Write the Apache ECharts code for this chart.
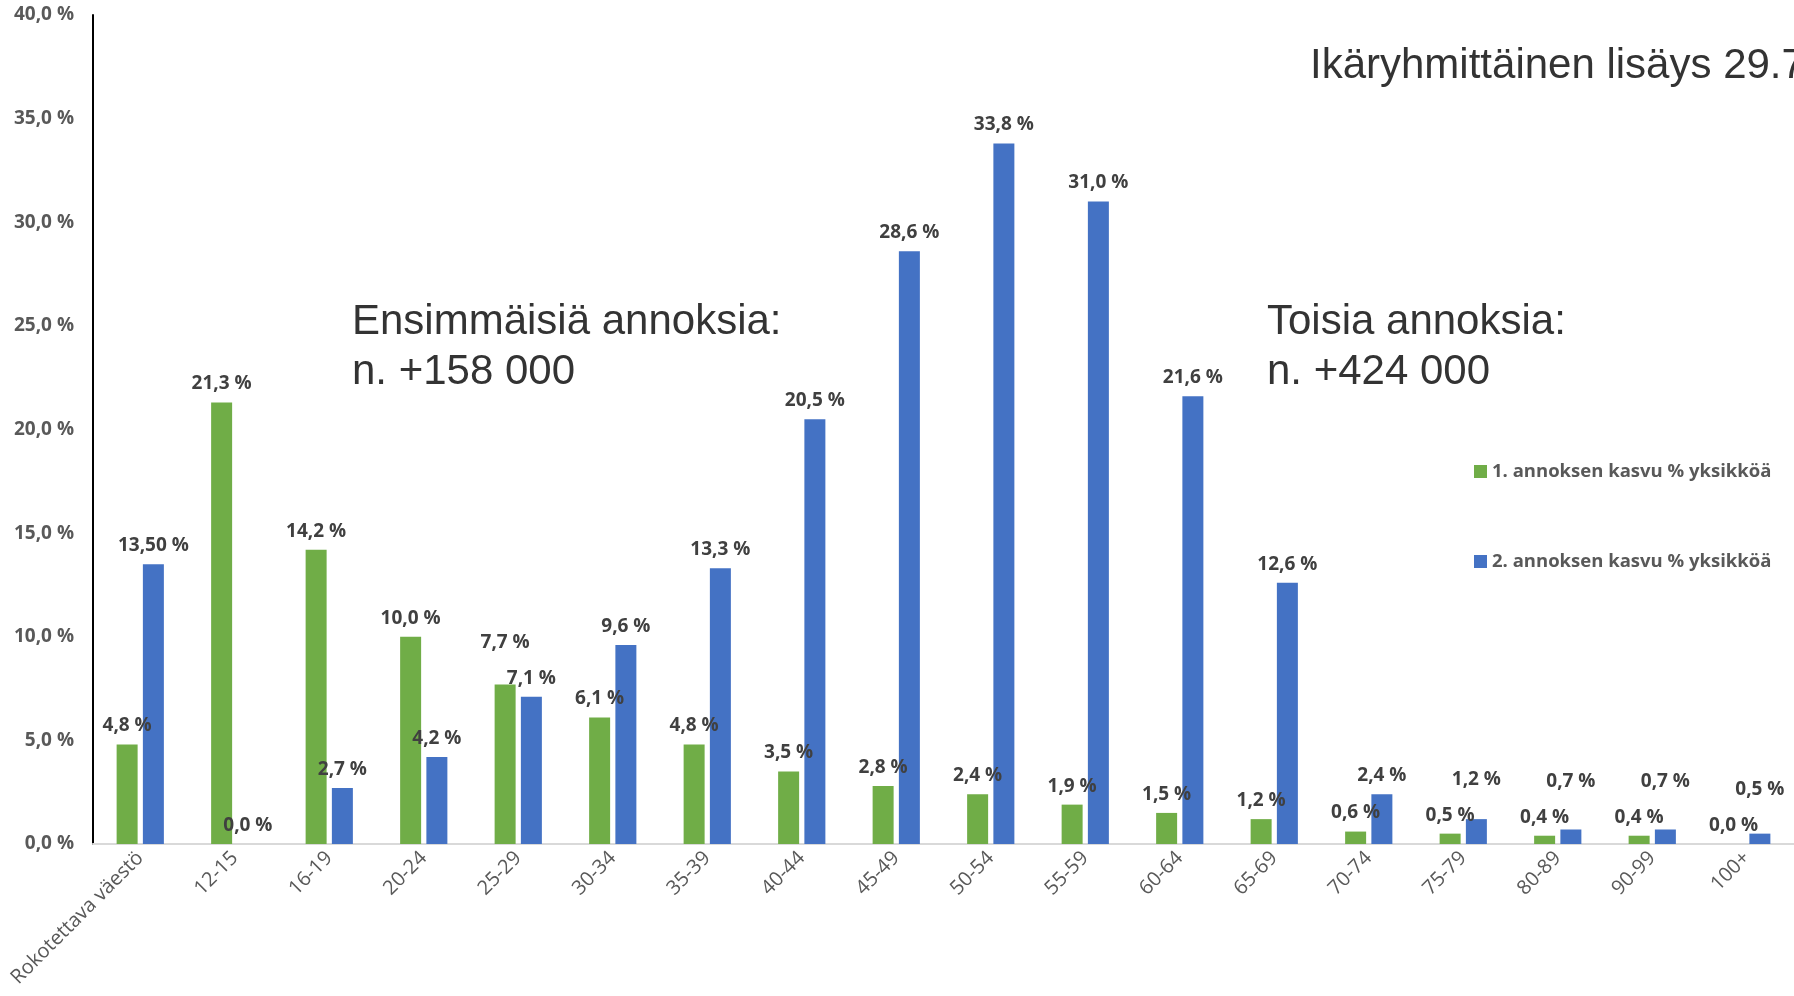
<!DOCTYPE html>
<html>
<head>
<meta charset="utf-8">
<script src="https://cdn.jsdelivr.net/npm/echarts@6/dist/echarts.min.js"></script>
<style>
  html, body { margin: 0; padding: 0; background: #fff; }
  #main { width: 1794px; height: 996px; }
</style>
</head>
<body>
<div id="main"></div>
<script>
    const categories = ['Rokotettava väestö', '12-15', '16-19', '20-24', '25-29', '30-34', '35-39', '40-44', '45-49',
        '50-54', '55-59', '60-64', '65-69', '70-74', '75-79', '80-89', '90-99', '100+'];
    const dose1Growth = [4.8, 21.3, 14.2, 10.0, 7.7, 6.1, 4.8, 3.5, 2.8, 2.4, 1.9, 1.5, 1.2, 0.6, 0.5, 0.4, 0.4, 0.0];
    const dose2Growth = [13.5, 0.0, 2.7, 4.2, 7.1, 9.6, 13.3, 20.5, 28.6, 33.8, 31.0, 21.6, 12.6, 2.4, 1.2, 0.7, 0.7, 0.5];
    const seriesNames = ['1. annoksen kasvu % yksikköä', '2. annoksen kasvu % yksikköä'];

    let dom = document.getElementById('main');
    let chart = echarts.init(dom);

    function pct(v, d) {
        return v.toFixed(d).replace('.', ',') + ' %';
    }

    // lift the label of the taller bar when the two labels of a group would collide
    function liftLabel(params) {
        let i = params.dataIndex;
        let own = params.seriesIndex === 0 ? dose1Growth[i] : dose2Growth[i];
        let other = params.seriesIndex === 0 ? dose2Growth[i] : dose1Growth[i];
        if (own <= other || own === 0) {
            return {};
        }
        let pxPerUnit = params.rect.height / own;
        let diff = (own - other) * pxPerUnit;
        if (diff < 36) {
            return { dy: -(36 - diff) };
        }
        return {};
    }

    let labelOpt = {
        show: true,
        position: 'top',
        distance: 9,
        fontFamily: 'Open Sans',
        fontWeight: 'bold',
        fontSize: 19,
        color: '#404040',
        formatter: function (p) {
            // first blue value shown with two decimals like in the original
            let d = (p.seriesIndex === 1 && p.dataIndex === 0) ? 2 : 1;
            return pct(p.value, d);
        }
    };

    let option = {
        backgroundColor: '#fff',
        animation: false,
        grid: {
            left: 93,
            right: 0,
            top: 15,
            bottom: 152
        },
        legend: {
            orient: 'vertical',
            left: 1474,
            top: 462,
            padding: 0,
            itemWidth: 13,
            itemHeight: 13,
            itemGap: 71,
            icon: 'rect',
            textStyle: {
                fontFamily: 'Open Sans',
                fontWeight: 'bold',
                fontSize: 18.5,
                color: '#595959'
            },
            data: seriesNames
        },
        xAxis: {
            type: 'category',
            data: categories,
            axisLine: { lineStyle: { color: '#d9d9d9', width: 2 } },
            axisTick: { show: false },
            axisLabel: {
                rotate: 45,
                margin: 11,
                interval: 0,
                fontFamily: 'Open Sans',
                fontSize: 20,
                color: '#595959'
            }
        },
        yAxis: {
            type: 'value',
            min: 0,
            max: 40,
            interval: 5,
            axisLine: { show: true, lineStyle: { color: '#000', width: 2 } },
            axisTick: { show: false },
            splitLine: { show: false },
            axisLabel: {
                margin: 19,
                fontFamily: 'Open Sans',
                fontWeight: 'bold',
                fontSize: 19,
                color: '#595959',
                formatter: function (v) { return pct(v, 1); }
            }
        },
        graphic: [
            {
                type: 'text',
                left: 1310,
                top: 45,
                style: {
                    text: 'Ikäryhmittäinen lisäys 29.7.',
                    font: '42px "Liberation Sans"',
                    fill: '#333'
                }
            },
            {
                type: 'text',
                left: 352,
                top: 297,
                style: {
                    text: 'Ensimmäisiä annoksia:\nn. +158 000',
                    font: '42px "Liberation Sans"',
                    lineHeight: 50,
                    fill: '#333'
                }
            },
            {
                type: 'text',
                left: 1267,
                top: 297,
                style: {
                    text: 'Toisia annoksia:\nn. +424 000',
                    font: '42px "Liberation Sans"',
                    lineHeight: 50,
                    fill: '#333'
                }
            }
        ],
        series: [
            {
                name: seriesNames[0],
                type: 'bar',
                data: dose1Growth,
                barWidth: 21,
                barGap: '25%',
                itemStyle: { color: '#70ad47' },
                label: labelOpt,
                labelLayout: liftLabel
            },
            {
                name: seriesNames[1],
                type: 'bar',
                data: dose2Growth,
                barWidth: 21,
                itemStyle: { color: '#4472c4' },
                label: labelOpt,
                labelLayout: liftLabel
            }
        ]
    };

    chart.setOption(option);
    window.addEventListener('resize', function () {
        chart.resize();
    });
</script>
</body>
</html>
